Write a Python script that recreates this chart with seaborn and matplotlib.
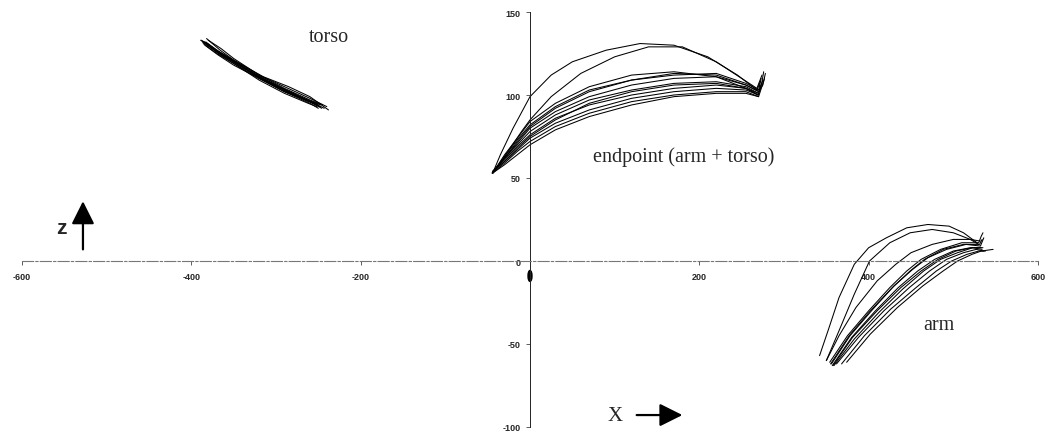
import matplotlib
matplotlib.use("Agg")
import matplotlib.pyplot as plt
import pandas as pd
import seaborn as sns
from matplotlib.patches import Ellipse

# ---------------- data ----------------
TORSO_X = [
    [-388, -370, -350, -320, -290, -260, -245],
    [-385, -370, -350, -320, -290, -260, -248],
    [-383, -368, -350, -320, -290, -260, -250],
    [-380, -365, -350, -320, -290, -260, -240],
    [-386, -370, -350, -320, -290, -262, -252],
    [-382, -366, -350, -315, -285, -260, -238],
    [-387, -370, -350, -320, -290, -265, -250],
    [-384, -368, -350, -320, -290, -260, -246],
    [-389, -372, -352, -322, -292, -264, -251],
    [-381, -366, -348, -318, -288, -258, -247],
    [-385, -369, -349, -319, -289, -261, -249],
    [-383, -367, -351, -321, -291, -259, -243],
]
TORSO_Z = [
    [133, 127, 121, 112, 104, 97, 94],
    [132, 126, 120, 111, 103, 96, 93],
    [131, 125, 119, 110, 102, 95, 92],
    [133, 128, 122, 112, 105, 98, 93],
    [131, 125, 119, 109, 101, 95, 93],
    [134, 127, 121, 111, 105, 99, 91],
    [132, 126, 120, 111, 103, 97, 94],
    [130, 124, 118, 110, 102, 96, 92],
    [133, 127, 121, 112, 104, 97, 95],
    [131, 125, 119, 110, 103, 96, 94],
    [132, 126, 120, 110, 102, 96, 93],
    [132, 126, 121, 111, 103, 96, 92],
]

END_X = [
    [-44, -35, -20, 0, 25, 50, 90, 130, 170, 210, 245, 268, 272],
    [-44, -30, -10, 0, 25, 60, 100, 140, 180, 220, 250, 268, 274],
    [-44, -30, -15, 0, 30, 70, 120, 170, 220, 255, 270, 274, 276],
    [-44, -30, -15, 0, 30, 70, 120, 170, 220, 255, 270, 273],
    [-44, -30, -15, 0, 30, 70, 120, 170, 220, 255, 270, 275, 278],
    [-44, -30, -15, 0, 30, 70, 120, 170, 220, 255, 270],
    [-44, -30, -15, 0, 30, 70, 120, 170, 220, 255, 270, 272],
    [-44, -30, -15, 0, 30, 70, 120, 170, 220, 255, 270],
    [-44, -30, -15, 0, 30, 70, 120, 170, 220, 255, 270, 277],
    [-44, -30, -15, 0, 30, 70, 120, 170, 220, 255, 270],
    [-43, -30, -15, 0, 30, 70, 120, 170, 220, 255, 271, 275],
    [-45, -30, -15, 0, 30, 70, 120, 170, 220, 255, 269],
]
END_Z = [
    [53, 64, 80, 99, 112, 120, 127, 131, 130, 123, 112, 103, 108],
    [53, 63, 78, 85, 99, 113, 123, 129, 129, 120, 110, 104, 112],
    [53, 64, 74, 84, 95, 105, 112, 114, 111, 104, 101, 108, 114],
    [53, 63, 73, 82, 93, 103, 109, 112, 113, 107, 103, 110],
    [53, 62, 71, 80, 90, 99, 106, 110, 111, 106, 102, 106, 113],
    [54, 62, 70, 78, 88, 97, 103, 107, 108, 105, 101],
    [54, 61, 69, 76, 86, 94, 100, 104, 106, 104, 100, 106],
    [54, 60, 67, 74, 83, 91, 98, 102, 104, 103, 100],
    [53, 59, 66, 72, 81, 89, 96, 100, 102, 102, 99, 110],
    [53, 58, 64, 70, 79, 87, 94, 99, 101, 101, 99],
    [54, 62, 72, 81, 92, 102, 109, 113, 112, 106, 102, 109],
    [53, 60, 68, 75, 85, 95, 102, 106, 107, 104, 100],
]

ARM_X = [
    [342, 352, 365, 383, 400, 421, 445, 470, 495, 512, 528],
    [350, 365, 383, 401, 425, 449, 475, 500, 520, 530],
    [354, 375, 400, 425, 445, 462, 485, 510, 530, 533, 535],
    [356, 378, 405, 430, 452, 470, 492, 515, 532, 536],
    [357, 380, 408, 435, 458, 478, 500, 520, 533],
    [359, 383, 412, 440, 465, 485, 505, 523, 534],
    [362, 388, 418, 448, 472, 492, 512, 527, 536],
    [368, 395, 426, 456, 480, 498, 516, 530, 538],
    [374, 402, 434, 464, 488, 505, 522, 533, 547],
    [350, 365, 385, 410, 432, 450, 475, 500, 520, 532],
    [355, 377, 402, 428, 449, 466, 488, 512, 531, 534],
    [358, 381, 410, 438, 462, 482, 503, 522, 535],
]
ARM_Z = [
    [-57, -42, -22, -2, 8, 14, 20, 22, 21, 17, 11],
    [-60, -42, -20, 0, 11, 17, 19, 17, 13, 10],
    [-61, -45, -30, -16, -6, 1, 7, 11, 11, 15, 17],
    [-62, -45, -29, -15, -5, 2, 7, 10, 9, 14],
    [-63, -46, -30, -16, -6, 1, 6, 8, 8],
    [-63, -47, -31, -17, -6, 1, 5, 8, 7],
    [-62, -46, -30, -16, -6, 1, 5, 7, 6],
    [-62, -45, -29, -16, -6, 0, 4, 6, 6],
    [-61, -44, -28, -15, -6, 0, 4, 6, 7],
    [-60, -45, -28, -12, -2, 5, 10, 13, 13, 12],
    [-62, -45, -30, -16, -6, 1, 7, 10, 10, 13],
    [-63, -46, -30, -16, -6, 1, 6, 8, 8],
]

X_TICKS = [-600, -400, -200, 200, 400, 600]
Z_TICKS = [-100, -50, 0, 50, 100, 150]
ORIGIN_DOT = (0, -9)

# ---------------- long table ----------------
rows = []
for grp, xs_list, zs_list in [("torso", TORSO_X, TORSO_Z),
                              ("endpoint", END_X, END_Z),
                              ("arm", ARM_X, ARM_Z)]:
    for i, (xs, zs) in enumerate(zip(xs_list, zs_list)):
        for j, (x, z) in enumerate(zip(xs, zs)):
            rows.append(dict(group=grp, curve=f"{grp}{i}", order=j, x=x, z=z))
df = pd.DataFrame(rows)

# ---------------- plot ----------------
sns.set_theme(style="white")
plt.rcParams["font.family"] = ["Liberation Sans", "DejaVu Sans"]

fig = plt.figure(figsize=(10.46, 4.35), dpi=100)
ax = fig.add_axes([22 / 1046, 7 / 435, 1016 / 1046, 415 / 435])

sns.lineplot(data=df, x="x", y="z", units="curve", estimator=None, sort=False,
             color="black", lw=0.75, ax=ax, legend=False)

ax.set_xlim(-600, 600)
ax.set_ylim(-100, 150)
ax.set_xlabel("")
ax.set_ylabel("")

ax.spines["top"].set_visible(False)
ax.spines["right"].set_visible(False)
ax.spines["left"].set_position(("data", 0))
ax.spines["bottom"].set_position(("data", 0))
ax.spines["left"].set_color("#222222")
ax.spines["left"].set_linewidth(0.7)
ax.spines["bottom"].set_color("#777777")
ax.spines["bottom"].set_linewidth(0.8)
ax.spines["bottom"].set_linestyle((0, (10, 2, 2, 2)))

ax.set_xticks(X_TICKS)
ax.set_yticks(Z_TICKS)
ax.set_xticklabels([str(v) for v in X_TICKS])
ax.set_yticklabels([str(v) for v in Z_TICKS])
ax.tick_params(axis="both", bottom=True, left=True, direction="out",
               length=3, width=0.6, color="#444444", labelsize=6.5)
ax.tick_params(axis="x", pad=5)
ax.tick_params(axis="y", pad=4)
for lab in ax.get_xticklabels() + ax.get_yticklabels():
    lab.set_fontweight("bold")

ax.add_patch(Ellipse(ORIGIN_DOT, 4.7, 6.6, color="black"))

serif = ["Liberation Serif", "DejaVu Serif"]
ax.text(-238, 135.5, "torso", family=serif, fontsize=14.5, ha="center", va="center")
ax.text(182, 63, "endpoint (arm + torso)", family=serif, fontsize=14.5,
        ha="center", va="center")
ax.text(483, -38, "arm", family=serif, fontsize=14.5, ha="center", va="center")
ax.text(100, -92.8, "X", family=serif, fontsize=15, ha="center", va="center")
ax.text(-554, 20, "z", family=["Liberation Sans", "DejaVu Sans"], fontsize=15,
        fontweight="bold", ha="center", va="center")

ax.annotate("", xy=(-528, 36), xytext=(-528, 7),
            arrowprops=dict(arrowstyle="-|>,head_length=1.0,head_width=0.5",
                            mutation_scale=14, lw=1.6, color="black",
                            shrinkA=0, shrinkB=0))
ax.annotate("", xy=(180, -92.8), xytext=(126, -92.8),
            arrowprops=dict(arrowstyle="-|>,head_length=1.0,head_width=0.5",
                            mutation_scale=14, lw=1.6, color="black",
                            shrinkA=0, shrinkB=0))

fig.savefig("out.png", dpi=100, facecolor="white")
